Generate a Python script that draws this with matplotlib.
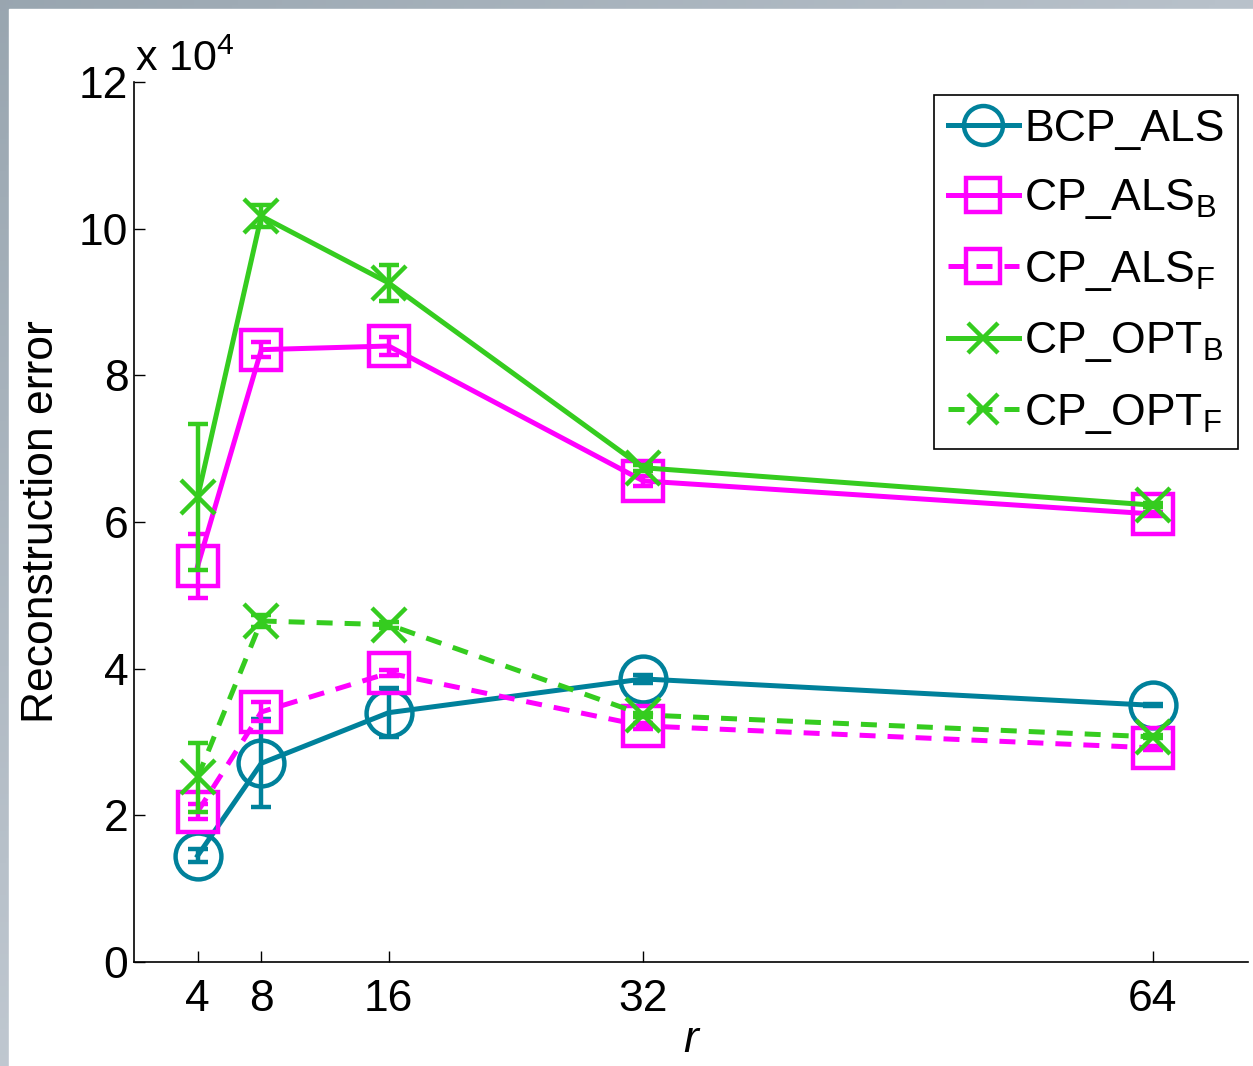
import numpy as np
import matplotlib
matplotlib.use("Agg")
import matplotlib.pyplot as plt
from matplotlib.patches import Rectangle
from matplotlib.ticker import FuncFormatter, FixedLocator

plt.rcParams['font.family'] = ['Liberation Sans', 'DejaVu Sans']
plt.rcParams['mathtext.fontset'] = 'custom'
plt.rcParams['mathtext.rm'] = 'Liberation Sans'
plt.rcParams['mathtext.it'] = 'Liberation Sans:italic'

# ---- data ----
r = [4, 8, 16, 32, 64]
bcp_als = [14500, 27100, 34000, 38600, 35000]
bcp_als_err = [900, 6000, 3300, 600, 150]
cp_als_b = [54000, 83500, 84000, 65600, 61100]
cp_als_b_err = [4300, 1000, 1200, 700, 300]
cp_als_f = [20500, 34100, 39400, 32200, 29200]
cp_als_f_err = [1000, 1300, 400, 400, 300]
cp_opt_b = [63400, 101700, 92600, 67400, 62300]
cp_opt_b_err = [10000, 1500, 2500, 400, 300]
cp_opt_f = [25200, 46500, 46000, 33700, 30700]
cp_opt_f_err = [4700, 800, 400, 300, 200]

labels = ['BCP_ALS', r'CP_ALS$_\mathregular{B}$', r'CP_ALS$_\mathregular{F}$',
          r'CP_OPT$_\mathregular{B}$', r'CP_OPT$_\mathregular{F}$']
yticks = [0, 20000, 40000, 60000, 80000, 100000, 120000]
xticks = [4, 8, 16, 32, 64]

teal = '#00819b'
magenta = '#ff00ff'
green = '#35cc1f'

W, H = 1253, 1066
fig = plt.figure(figsize=(W / 100, H / 100), dpi=100)

# background gradient border (top and left strips)
bg = fig.add_axes([0, 0, 1, 1], zorder=-10)
yy, xx = np.mgrid[0:1:200j, 0:1:200j]
c0 = np.array([0.60, 0.65, 0.69])
c1 = np.array([0.85, 0.87, 0.90])
t = np.clip(0.5 * xx + 0.6 * yy, 0, 1)[..., None]
img = c0 * (1 - t) + c1 * t
bg.imshow(img, extent=[0, 1, 0, 1], origin='upper', aspect='auto')
bg.add_patch(Rectangle((9 / W, 0), 1, 1 - 9 / H, color='white', transform=bg.transAxes))
bg.set_xlim(0, 1)
bg.set_ylim(0, 1)
bg.axis('off')

ax = fig.add_axes([134 / W, 1 - 962 / H, (1248 - 134) / W, (962 - 82) / H])
ax.set_facecolor('none')

lw = 3.6
mew = 3.2
dash = (0, (3.2, 2.4))
series = [
    (bcp_als, bcp_als_err, teal, 'o', 33, '-'),
    (cp_als_b, cp_als_b_err, magenta, 's', 28.5, '-'),
    (cp_als_f, cp_als_f_err, magenta, 's', 28.5, dash),
    (cp_opt_b, cp_opt_b_err, green, 'x', 25, '-'),
    (cp_opt_f, cp_opt_f_err, green, 'x', 25, dash),
]
handles = []
for (vals, err, col, mk, ms, ls), lab in zip(series, labels):
    ax.errorbar(r, vals, yerr=err, fmt='none', ecolor=col, elinewidth=3.2,
                capsize=7, capthick=3.2, linestyle='-')
    h, = ax.plot(r, vals, color=col, lw=lw, ls=ls, marker=mk, ms=ms,
                 mfc='none', mec=col, mew=mew, label=lab)
    handles.append(h)

ax.set_xlim(0, 70)
ax.set_ylim(0, 120000)
ax.xaxis.set_major_locator(FixedLocator(xticks))
ax.yaxis.set_major_locator(FixedLocator(yticks))
ax.yaxis.set_major_formatter(FuncFormatter(lambda v, p: f'{v / 1e4:g}'))
for s in ['top', 'right']:
    ax.spines[s].set_visible(False)
for s in ['left', 'bottom']:
    ax.spines[s].set_linewidth(1.2)
ax.tick_params(direction='in', length=8, width=1.0, labelsize=32)
ax.tick_params(axis='x', pad=12)
ax.tick_params(axis='y', pad=4)

ax.set_xlabel('r', fontsize=32, style='italic', labelpad=0)
ax.set_ylabel('Reconstruction error', fontsize=32, labelpad=12)

fig.text(135 / W, 1 - 60 / H, r'x 10$^\mathregular{4}$', fontsize=31, va='center', ha='left')

leg = ax.legend(handles=handles, loc='upper right', bbox_to_anchor=(0.991, 0.985),
                borderaxespad=0, fontsize=32, handlelength=1.6, handletextpad=0.12,
                labelspacing=0.62, borderpad=0.3, frameon=True, fancybox=False,
                framealpha=1, edgecolor='black', markerscale=0.85)
leg.get_frame().set_linewidth(1.2)

fig.savefig('out.png', dpi=100)
